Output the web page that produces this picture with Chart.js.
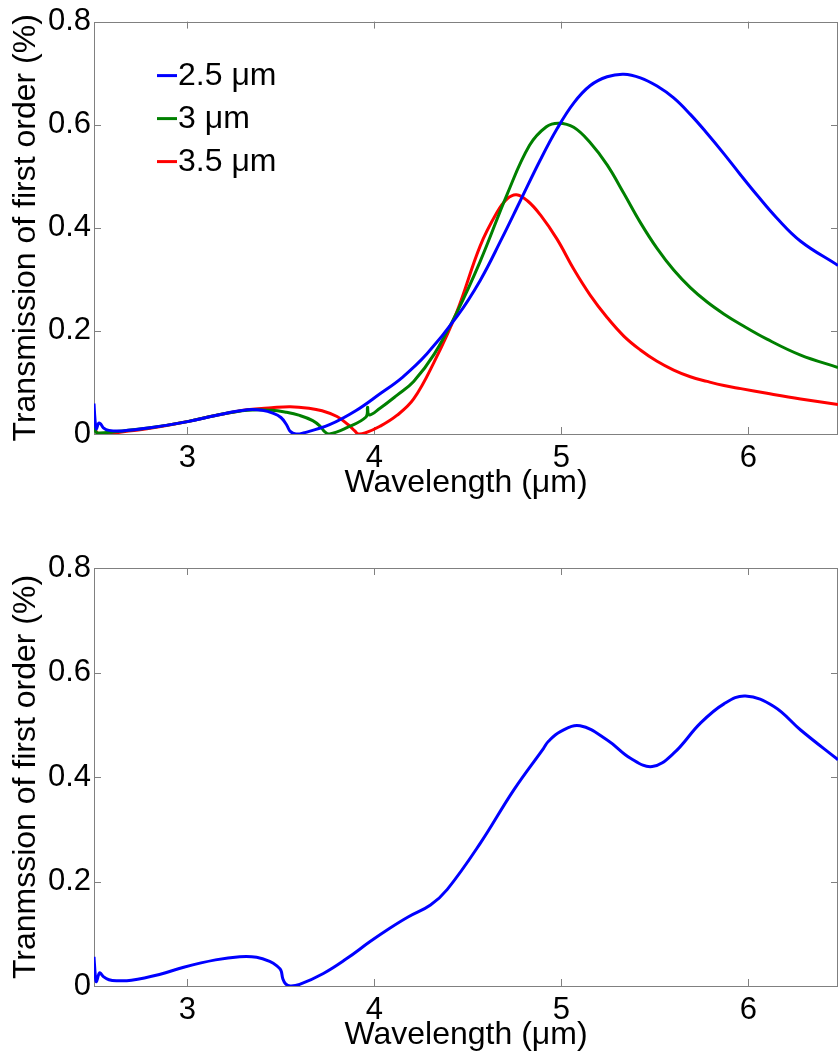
<!DOCTYPE html>
<html>
<head>
<meta charset="utf-8">
<script src="https://cdn.jsdelivr.net/npm/chart.js@4.4.0/dist/chart.umd.min.js"></script>
<style>
  html, body { margin: 0; padding: 0; background: #fff; overflow: hidden; }
  .panel { position: absolute; left: 0; width: 839px; height: 527px; }
</style>
</head>
<body>
<div class="panel" style="top:0"><canvas id="topChart" width="839" height="527"></canvas></div>
<div class="panel" style="top:527px"><canvas id="bottomChart" width="839" height="527"></canvas></div>
<script>
// axis ticks
const xTicks = [3, 4, 5, 6];
const yTicks = [0, 0.2, 0.4, 0.6, 0.8];

// top panel: three periods
const legendLabels = ['2.5 \u03bcm', '3 \u03bcm', '3.5 \u03bcm'];

const wl25 = [2.500, 2.505, 2.512, 2.525, 2.535, 2.55, 2.58, 2.65, 2.80, 3.00, 3.15, 3.32, 3.40, 3.46, 3.50, 3.53, 3.55, 3.58, 3.62, 3.76, 3.90, 4.03, 4.15, 4.28, 4.44, 4.566, 4.68, 4.78, 4.888, 4.977, 5.066, 5.155, 5.245, 5.334, 5.423, 5.512, 5.601, 5.69, 5.78, 5.869, 5.958, 6.05, 6.15, 6.28, 6.48];
const t25  = [0.059, 0.030, 0.010, 0.021, 0.020, 0.012, 0.007, 0.006, 0.012, 0.024, 0.036, 0.047, 0.046, 0.040, 0.032, 0.018, 0.005, 0.000, 0.002, 0.018, 0.045, 0.078, 0.110, 0.155, 0.227, 0.298, 0.378, 0.452, 0.532, 0.592, 0.642, 0.676, 0.693, 0.698, 0.691, 0.675, 0.652, 0.620, 0.583, 0.544, 0.503, 0.462, 0.420, 0.374, 0.327];

const wl30 = [2.500, 2.504, 2.510, 2.53, 2.60, 2.80, 3.00, 3.15, 3.32, 3.45, 3.53, 3.60, 3.67, 3.71, 3.735, 3.76, 3.85, 3.955, 3.963, 3.972, 4.03, 4.12, 4.21, 4.32, 4.44, 4.566, 4.71, 4.83, 4.92, 4.986, 5.066, 5.155, 5.245, 5.334, 5.423, 5.512, 5.601, 5.69, 5.78, 5.869, 5.958, 6.10, 6.28, 6.48];
const t30  = [0.043, 0.020, 0.004, 0.002, 0.004, 0.012, 0.024, 0.036, 0.046, 0.046, 0.042, 0.036, 0.026, 0.015, 0.004, 0.000, 0.012, 0.033, 0.052, 0.037, 0.050, 0.075, 0.102, 0.155, 0.235, 0.335, 0.465, 0.560, 0.596, 0.603, 0.595, 0.565, 0.522, 0.467, 0.410, 0.360, 0.318, 0.284, 0.256, 0.233, 0.213, 0.184, 0.153, 0.129];

const wl35 = [2.500, 2.505, 2.515, 2.53, 2.60, 2.80, 3.00, 3.15, 3.32, 3.45, 3.55, 3.65, 3.72, 3.80, 3.86, 3.895, 3.915, 3.95, 4.03, 4.12, 4.21, 4.32, 4.44, 4.566, 4.656, 4.71, 4.76, 4.82, 4.888, 4.977, 5.066, 5.155, 5.245, 5.334, 5.423, 5.512, 5.601, 5.69, 5.78, 5.87, 5.96, 6.10, 6.28, 6.48];
const t35  = [0.018, 0.012, 0.003, 0.000, 0.002, 0.011, 0.024, 0.036, 0.047, 0.051, 0.053, 0.050, 0.045, 0.034, 0.018, 0.006, 0.000, 0.002, 0.015, 0.036, 0.068, 0.140, 0.236, 0.365, 0.430, 0.456, 0.464, 0.452, 0.425, 0.378, 0.320, 0.269, 0.226, 0.190, 0.163, 0.141, 0.124, 0.111, 0.102, 0.094, 0.088, 0.079, 0.068, 0.057];

// bottom panel
const wlB = [2.500, 2.507, 2.513, 2.525, 2.532, 2.55, 2.58, 2.62, 2.70, 2.85, 2.98, 3.15, 3.28, 3.37, 3.44, 3.48, 3.50, 3.51, 3.525, 3.55, 3.60, 3.727, 3.85, 3.977, 4.08, 4.18, 4.30, 4.39, 4.566, 4.745, 4.905, 4.93, 4.995, 5.10, 5.245, 5.37, 5.486, 5.60, 5.744, 5.87, 5.985, 6.137, 6.28, 6.48];
const tB  = [0.056, 0.020, 0.008, 0.022, 0.025, 0.018, 0.012, 0.010, 0.011, 0.022, 0.036, 0.050, 0.056, 0.055, 0.047, 0.038, 0.030, 0.014, 0.004, 0.000, 0.003, 0.024, 0.052, 0.085, 0.110, 0.132, 0.155, 0.185, 0.273, 0.375, 0.455, 0.468, 0.487, 0.498, 0.471, 0.436, 0.420, 0.445, 0.503, 0.540, 0.555, 0.535, 0.490, 0.433];

const FONT = "'Liberation Sans', Arial, sans-serif";
const pts = (xs, ys) => xs.map((x, i) => ({ x: x, y: ys[i] }));

// MATLAB style box with inward ticks, drawn under the curves
const boxTicks = {
  id: 'boxTicks',
  beforeDatasetsDraw(chart) {
    const { ctx, chartArea: a, scales } = chart;
    const len = 7;
    ctx.save();
    ctx.strokeStyle = '#808080';
    ctx.lineWidth = 1;
    ctx.strokeRect(Math.round(a.left) + 0.5, Math.round(a.top) + 0.5, Math.round(a.right - a.left) - 1, Math.round(a.bottom - a.top));
    ctx.beginPath();
    xTicks.forEach(v => {
      const px = Math.round(scales.x.getPixelForValue(v)) + 0.5;
      ctx.moveTo(px, a.bottom); ctx.lineTo(px, a.bottom - len);
      ctx.moveTo(px, a.top); ctx.lineTo(px, a.top + len);
    });
    yTicks.forEach(v => {
      const py = Math.round(scales.y.getPixelForValue(v)) + 0.5;
      ctx.moveTo(a.left, py); ctx.lineTo(a.left + len, py);
      ctx.moveTo(a.right, py); ctx.lineTo(a.right - len, py);
    });
    ctx.stroke();
    ctx.restore();
  }
};

// legend inside the top-left of the plot area
const innerLegend = {
  id: 'innerLegend',
  afterDraw(chart) {
    if (!chart.options.plugins.innerLegend || !chart.options.plugins.innerLegend.show) return;
    const { ctx, chartArea: a } = chart;
    ctx.save();
    ctx.font = '32px ' + FONT;
    ctx.textBaseline = 'middle';
    ctx.fillStyle = '#000';
    chart.data.datasets.forEach((ds, i) => {
      const y = a.top + 54 + i * 43;
      ctx.strokeStyle = ds.borderColor;
      ctx.lineWidth = 3;
      ctx.beginPath();
      ctx.moveTo(a.left + 63, y);
      ctx.lineTo(a.left + 83, y);
      ctx.stroke();
      ctx.fillText(ds.label, a.left + 84, y + 1);
    });
    ctx.restore();
  }
};

function makeOptions(yTitle, padTop, padBottom, withLegend) {
  return {
    responsive: false,
    animation: false,
    layout: { padding: { top: padTop, bottom: padBottom, left: 0, right: 1 } },
    elements: { point: { radius: 0 }, line: { borderWidth: 3, tension: 0.4, capBezierPoints: false } },
    plugins: {
      legend: { display: false },
      tooltip: { enabled: false },
      innerLegend: { show: withLegend }
    },
    scales: {
      x: {
        type: 'linear',
        min: 2.5,
        max: 6.48,
        afterFit(s) { s.height = 68; },
        afterBuildTicks(s) { s.ticks = xTicks.map(v => ({ value: v })); },
        grid: { display: false, drawTicks: false },
        border: { display: false },
        ticks: { padding: 6, color: '#000', font: { family: FONT, size: 31 }, maxRotation: 0, callback: v => String(v) },
        title: { display: true, text: 'Wavelength (\u03bcm)', color: '#000', font: { family: FONT, size: 32, lineHeight: 1.2 }, padding: { top: 0, bottom: 0 } }
      },
      y: {
        min: 0,
        max: 0.8,
        afterFit(s) { s.width = 94; },
        afterBuildTicks(s) { s.ticks = yTicks.map(v => ({ value: v })); },
        grid: { display: false, drawTicks: false },
        border: { display: false },
        ticks: { padding: 3, color: '#000', font: { family: FONT, size: 31 }, callback: v => (v === 0 ? '0' : v.toFixed(1)) },
        title: { display: true, text: yTitle, color: '#000', font: { family: FONT, size: 32, lineHeight: 1.2 }, padding: { top: 7, bottom: 0 } }
      }
    }
  };
}

new Chart(document.getElementById('topChart'), {
  type: 'line',
  data: {
    datasets: [
      { label: legendLabels[0], data: pts(wl25, t25), borderColor: '#0000ff' },
      { label: legendLabels[1], data: pts(wl30, t30), borderColor: '#008000' },
      { label: legendLabels[2], data: pts(wl35, t35), borderColor: '#ff0000' }
    ]
  },
  options: makeOptions('Transmission of first order (%)', 16, 25, true),
  plugins: [boxTicks, innerLegend]
});

new Chart(document.getElementById('bottomChart'), {
  type: 'line',
  data: {
    datasets: [
      { label: 'Transmission', data: pts(wlB, tB), borderColor: '#0000ff' }
    ]
  },
  options: makeOptions('Tranmssion of first order (%)', 41, 0, false),
  plugins: [boxTicks, innerLegend]
});
</script>
</body>
</html>
